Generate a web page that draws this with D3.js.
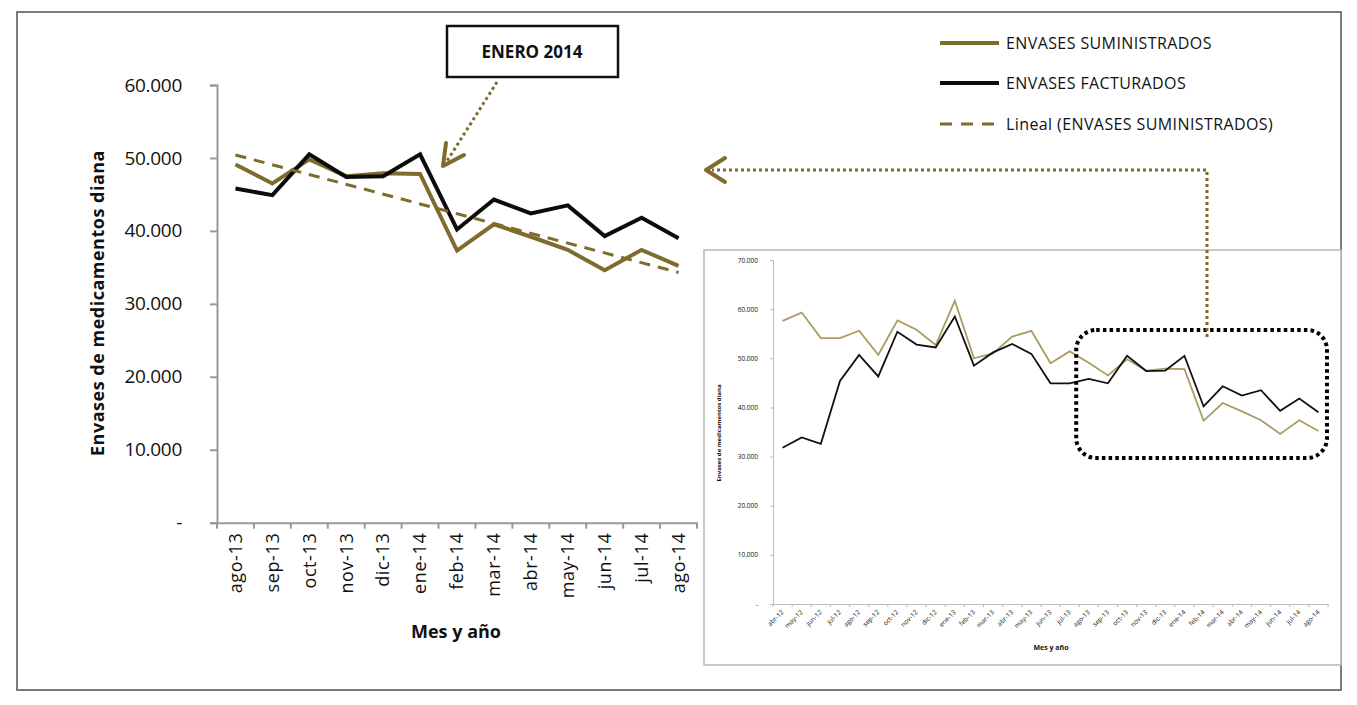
<!DOCTYPE html>
<html>
<head>
<meta charset="utf-8">
<script src="https://cdn.jsdelivr.net/npm/d3@7/dist/d3.min.js"></script>
<style>
  body { margin: 0; background: #fff; }
  svg { display: block; }
  text { font-family: "Open Sans", Lato, sans-serif; fill: #111; }
</style>
</head>
<body>
<svg id="chart" width="1357" height="705"></svg>
<script>
// main chart (ago-13 .. ago-14)
const meses = ["ago-13", "sep-13", "oct-13", "nov-13", "dic-13", "ene-14", "feb-14",
    "mar-14", "abr-14", "may-14", "jun-14", "jul-14", "ago-14"];
const suministrados = [49100, 46500, 49800, 47500, 47900, 47800, 37300, 40900, 39200, 37400, 34600, 37400, 35200];
const facturados = [45800, 44900, 50500, 47400, 47500, 50500, 40200, 44300, 42400, 43500, 39300, 41800, 39000];
const yTicks = [0, 10000, 20000, 30000, 40000, 50000, 60000];

// inset chart (abr-12 .. ago-14), first 16 months then the same as above
const mesesInsetPrevios = ["abr-12", "may-12", "jun-12", "jul-12", "ago-12", "sep-12", "oct-12", "nov-12",
    "dic-12", "ene-13", "feb-13", "mar-13", "abr-13", "may-13", "jun-13", "jul-13"];
const suministradosPrevios = [57600, 59300, 54100, 54100, 55600, 50700, 57700, 55800, 52700, 61700, 50000, 51000, 54400, 55600, 49000, 51400];
const facturadosPrevios = [31800, 33900, 32600, 45400, 50700, 46300, 55400, 52800, 52200, 58500, 48500, 51200, 52900, 50900, 44900, 44900];
const yTicksInset = [0, 10000, 20000, 30000, 40000, 50000, 60000, 70000];

const legendLabels = ["ENVASES SUMINISTRADOS", "ENVASES FACTURADOS", "Lineal (ENVASES SUMINISTRADOS)"];

const gold = "#7d6c2c";
const goldLight = "#aa9c62";
const svg = d3.select("#chart");

const locale = d3.formatLocale({ decimal: ",", thousands: ".", grouping: [3], currency: ["", ""] });
const fmt = v => v === 0 ? "-" : locale.format(",d")(v);

// outer frame
svg.append("rect")
    .attr("x", 17).attr("y", 12).attr("width", 1324).attr("height", 678)
    .attr("fill", "none").attr("stroke", "#7a7a7a").attr("stroke-width", 2);

// ---------- main chart ----------
const x = d3.scaleBand().domain(meses).range([217, 697]);
const y = d3.scaleLinear().domain([0, 60000]).range([522.7, 85]);
const cx = m => x(m) + x.bandwidth() / 2;

const yAxis = svg.append("g")
    .attr("transform", "translate(217,0)")
    .call(d3.axisLeft(y).tickValues(yTicks).tickFormat(fmt).tickSize(7).tickPadding(28));
yAxis.select(".domain").attr("stroke", "#999").attr("stroke-width", 2);
yAxis.selectAll(".tick line").attr("stroke", "#999").attr("stroke-width", 2);
yAxis.selectAll(".tick text").style("font-size", "19px").style("letter-spacing", "-0.3px").attr("fill", "#111");

const xAxis = svg.append("g")
    .attr("transform", "translate(0,522.7)")
    .call(d3.axisBottom(x).tickSize(0).tickSizeOuter(0));
xAxis.select(".domain").attr("stroke", "#999").attr("stroke-width", 2);
xAxis.selectAll(".tick text")
    .attr("transform", "rotate(-90)")
    .attr("x", -10).attr("y", 0).attr("dy", "0.35em")
    .style("text-anchor", "end").style("font-size", "18px").style("letter-spacing", "0.6px");
// Excel style ticks between the months
xAxis.selectAll(".sep")
    .data(meses.map(m => x(m)).concat([x.range()[1]]))
    .enter().append("line")
    .attr("x1", d => d).attr("x2", d => d)
    .attr("y1", 0).attr("y2", 6)
    .attr("stroke", "#999").attr("stroke-width", 2);

// linear trend of suministrados (least squares, as Excel does)
const n = suministrados.length;
const mx = d3.mean(d3.range(n));
const my = d3.mean(suministrados);
const slope = d3.sum(suministrados, (v, i) => (i - mx) * (v - my)) / d3.sum(d3.range(n), i => (i - mx) ** 2);
const trend = [0, n - 1].map(i => ({ i, v: my + slope * (i - mx) }));

const line = d3.line().x((d, i) => cx(meses[i])).y(d => y(d));

svg.append("path").datum(suministrados)
    .attr("d", line).attr("fill", "none").attr("stroke", gold).attr("stroke-width", 4).attr("stroke-linejoin", "miter");
svg.append("path").datum(facturados)
    .attr("d", line).attr("fill", "none").attr("stroke", "#0c0c0c").attr("stroke-width", 4).attr("stroke-linejoin", "miter");
svg.append("path").datum(trend)
    .attr("d", d3.line().x(d => cx(meses[d.i])).y(d => y(d.v)))
    .attr("fill", "none").attr("stroke", gold).attr("stroke-width", 3).attr("stroke-dasharray", "11,8");

svg.append("text")
    .attr("transform", "translate(104,303) rotate(-90)")
    .attr("text-anchor", "middle")
    .style("font-size", "18px").style("font-weight", "bold").style("letter-spacing", "0.5px")
    .text("Envases de medicamentos diana");
svg.append("text")
    .attr("x", 456).attr("y", 638)
    .attr("text-anchor", "middle")
    .style("font-size", "18px").style("font-weight", "bold")
    .text("Mes y año");

// ---------- inset chart ----------
const mesesInset = mesesInsetPrevios.concat(meses);
const sumInset = suministradosPrevios.concat(suministrados);
const facInset = facturadosPrevios.concat(facturados);

svg.append("rect")
    .attr("x", 704).attr("y", 250).attr("width", 637).attr("height", 415)
    .attr("fill", "#fff").attr("stroke", "#b8b8b8").attr("stroke-width", 1.5);

const xi = d3.scaleBand().domain(mesesInset).range([773, 1328]);
const yi = d3.scaleLinear().domain([0, 70000]).range([604, 260]);
const cxi = m => xi(m) + xi.bandwidth() / 2;

const yAxisI = svg.append("g")
    .attr("transform", "translate(773,0)")
    .call(d3.axisLeft(yi).tickValues(yTicksInset).tickFormat(fmt).tickSize(3).tickPadding(12));
yAxisI.selectAll(".domain, .tick line").attr("stroke", "#bbb");
yAxisI.selectAll(".tick text").style("font-size", "6.5px").attr("fill", "#444");

const xAxisI = svg.append("g")
    .attr("transform", "translate(0,604)")
    .call(d3.axisBottom(xi).tickSize(0).tickSizeOuter(0));
xAxisI.select(".domain").attr("stroke", "#bbb");
xAxisI.selectAll(".tick text")
    .attr("transform", "rotate(-45)")
    .attr("x", -5).attr("y", 5).attr("dy", "0.35em")
    .style("text-anchor", "end").style("font-size", "6.5px").attr("fill", "#333");
xAxisI.selectAll(".sep")
    .data(mesesInset.map(m => xi(m)).concat([xi.range()[1]]))
    .enter().append("line")
    .attr("x1", d => d).attr("x2", d => d)
    .attr("y1", 0).attr("y2", 3)
    .attr("stroke", "#bbb");

const lineI = d3.line().x((d, i) => cxi(mesesInset[i])).y(d => yi(d));
svg.append("path").datum(sumInset)
    .attr("d", lineI).attr("fill", "none").attr("stroke", goldLight).attr("stroke-width", 1.8);
svg.append("path").datum(facInset)
    .attr("d", lineI).attr("fill", "none").attr("stroke", "#111").attr("stroke-width", 1.8);

svg.append("text")
    .attr("transform", "translate(721,433) rotate(-90)")
    .attr("text-anchor", "middle")
    .style("font-size", "6px").style("font-weight", "bold")
    .text("Envases de medicamentos diana");
svg.append("text")
    .attr("x", 1051).attr("y", 650)
    .attr("text-anchor", "middle")
    .style("font-size", "7px").style("font-weight", "bold")
    .text("Mes y año");

// ---------- annotations ----------
// dotted box around ago-13 .. ago-14 in the inset
svg.append("rect")
    .attr("x", xi("ago-13") - 3).attr("y", 330)
    .attr("width", 1327 - xi("ago-13") + 3).attr("height", 128).attr("rx", 20)
    .attr("fill", "none").attr("stroke", "#000").attr("stroke-width", 4)
    .attr("stroke-dasharray", "3.5,3.2");

const dotted = (sel, pathD) => sel.append("path")
    .attr("d", pathD).attr("fill", "none").attr("stroke", gold)
    .attr("stroke-width", 3).attr("stroke-dasharray", "3,3");
const chevron = (sel, pathD) => sel.append("path")
    .attr("d", pathD).attr("fill", "none").attr("stroke", gold)
    .attr("stroke-width", 4).attr("stroke-linejoin", "round").attr("stroke-linecap", "round");

dotted(svg, "M1207,337 L1207,170 L712,170");
chevron(svg, "M725,158 L706,170 L725,182");

// ENERO 2014 label
svg.append("rect")
    .attr("x", 447).attr("y", 26).attr("width", 171).attr("height", 51)
    .attr("fill", "#fff").attr("stroke", "#111").attr("stroke-width", 2.5);
svg.append("text")
    .attr("x", 532).attr("y", 58).attr("text-anchor", "middle")
    .style("font-size", "17px").style("font-weight", "bold")
    .text("ENERO 2014");
dotted(svg, "M497,82 L447,161");
chevron(svg, "M446,143 L443,166 L464,155");

// legend
const legend = svg.append("g");
const legendY = [43, 83, 124];
legendLabels.forEach((lab, i) => {
    legend.append("line")
        .attr("x1", 940).attr("x2", 999).attr("y1", legendY[i]).attr("y2", legendY[i])
        .attr("stroke", i === 1 ? "#0c0c0c" : gold)
        .attr("stroke-width", i === 2 ? 3 : 4)
        .attr("stroke-dasharray", i === 2 ? "12,9" : null);
    legend.append("text")
        .attr("x", 1006).attr("y", legendY[i]).attr("dy", "0.36em")
        .style("font-size", "16px").style("letter-spacing", "0.4px")
        .text(lab);
});
</script>
</body>
</html>
